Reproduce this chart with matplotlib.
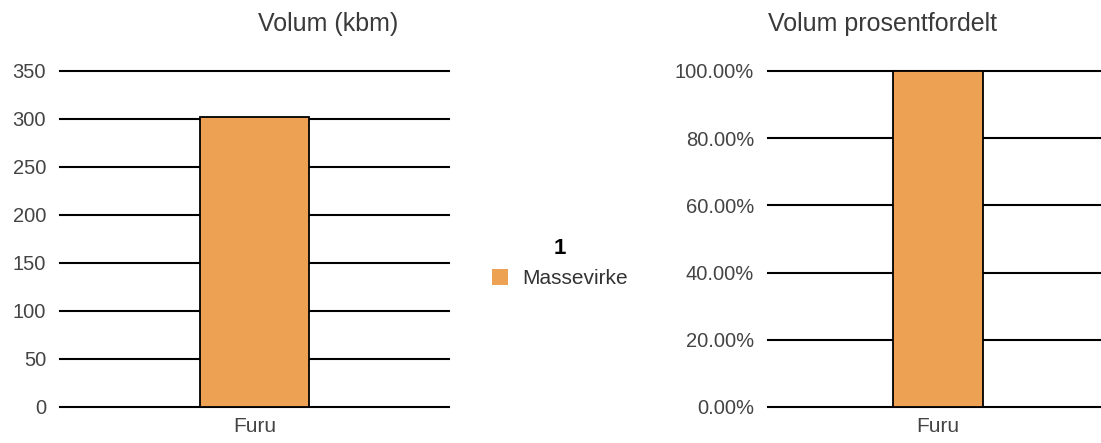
import numpy as np
import matplotlib
matplotlib.use('Agg')
import matplotlib.pyplot as plt
from matplotlib.ticker import FuncFormatter

# data
species = ["Furu"]
volume = [302]
percent = [100.0]
series_name = "Massevirke"
legend_title = "1"

vol_ticks = [0, 50, 100, 150, 200, 250, 300, 350]
pct_ticks = [0, 20, 40, 60, 80, 100]

bar_color = "#eda152"
plt.rcParams['font.family'] = ['Liberation Sans', 'DejaVu Sans']

W, H = 1101, 443
fig = plt.figure(figsize=(W / 100, H / 100), dpi=100)


def px_axes(x0, y_top, w, h):
    return fig.add_axes([x0 / W, 1 - (y_top + h) / H, w / W, h / H])


def style(ax, ticks):
    ax.set_ylim(ticks[0], ticks[-1])
    ax.set_yticks(ticks)
    ax.set_xlim(-0.5, 0.5)
    ax.set_xticks(range(len(species)))
    ax.set_xticklabels(species)
    for s in ax.spines.values():
        s.set_visible(False)
    ax.tick_params(length=0, labelcolor="#444444")
    ax.tick_params(axis='y', pad=10, labelsize=14.5)
    ax.tick_params(axis='x', pad=7, labelsize=15)
    ax.yaxis.grid(True, color="black", linewidth=1.5)
    for gl in ax.get_ygridlines():
        gl.set_clip_on(False)
    ax.set_axisbelow(True)


# left: volume
ax1 = px_axes(60, 71, 389, 336)
ax1.bar(range(len(species)), volume, width=0.278, color=bar_color,
        edgecolor="black", linewidth=1.3, label=series_name, zorder=3)
style(ax1, vol_ticks)
fig.text(328 / W, 1 - 24 / H, "Volum (kbm)", ha="center", va="center",
         fontsize=18, color="#3a3a3a")

# right: percent
ax2 = px_axes(768, 71, 340, 336)
ax2.bar(range(len(species)), percent, width=0.265, color=bar_color,
        edgecolor="black", linewidth=1.3, zorder=3)
style(ax2, pct_ticks)
ax2.yaxis.set_major_formatter(FuncFormatter(lambda v, p: f"{v:.2f}%"))
fig.text(768 / W, 1 - 24 / H, "Volum prosentfordelt", ha="left", va="center",
         fontsize=18, color="#3a3a3a")

# legend
h, l = ax1.get_legend_handles_labels()
leg = fig.legend(h, l, loc="center", bbox_to_anchor=(560 / W, 1 - 263 / H),
                 frameon=False, fontsize=15, handlelength=0.75, handleheight=0.75,
                 handletextpad=0.7, title=legend_title,
                 title_fontproperties={'weight': 'bold', 'size': 16})
for t in leg.get_texts():
    t.set_color("#333333")
leg.legend_handles[0].set_edgecolor("none")

fig.savefig("out.png", dpi=100)
